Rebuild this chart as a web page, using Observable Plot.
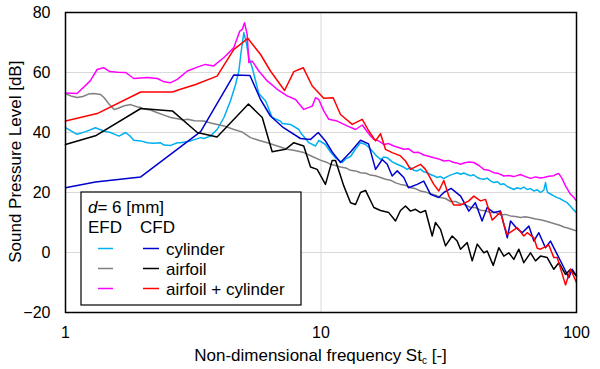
<!DOCTYPE html>
<html><head><meta charset="utf-8">
<script src="https://cdn.jsdelivr.net/npm/d3@7"></script>
<script src="https://cdn.jsdelivr.net/npm/@observablehq/plot@0.6"></script>
<style>body{margin:0;background:#fff;} #chart{width:600px;height:369px;}</style>
</head><body><div id="chart"></div>
<script>
// [St, dB]
const efdCylinder = [[1,41.6],[1.11,39.4],[1.2,40.3],[1.31,41.6],[1.41,40.5],[1.5,40.0],[1.62,38.8],[1.72,40.0],[1.8,38.6],[1.85,37.4],[1.97,37.2],[2.09,36.6],[2.22,36.4],[2.35,36.6],[2.43,35.8],[2.58,35.7],[2.74,36.6],[2.82,36.6],[3.0,37.0],[3.09,37.2],[3.38,38.3],[3.48,38.0],[3.69,38.8],[3.92,41.0],[4.17,45.0],[4.42,50.5],[4.63,56.0],[4.77,60.5],[4.87,67],[4.99,73.3],[5.1,70],[5.22,65.0],[5.38,61.6],[5.71,53.0],[6.07,50.5],[6.44,45.0],[6.94,43.8],[7.05,43.0],[7.6,42.7],[8.19,41.0],[8.31,40.0],[8.96,36.6],[9.52,35.5],[9.8,37.4],[10.41,36.0],[10.89,33.5],[11.4,31.5],[12.11,30.0],[12.5,31.2],[13.05,32.0],[13.65,34.5],[14.28,36.6],[14.94,36.0],[15.4,35],[15.87,33.8],[16.5,32.2],[17.1,31.0],[17.6,31.8],[18.16,31.6],[19.0,30.2],[19.87,29.4],[20.5,28.9],[21.1,28.4],[21.74,27.7],[22.4,28.3],[23.1,27.4],[23.79,27.2],[24.5,27.8],[25.25,26.9],[26.04,26.6],[26.8,26.0],[27.6,25.6],[28.5,25.0],[29.4,25.3],[30.2,24.6],[31.18,25.3],[32.1,25.8],[33.1,26.2],[34.12,26.6],[35.2,26.1],[36.2,26.5],[37.35,26.0],[38.5,25.6],[39.6,25.9],[40.9,25.0],[42.1,24.6],[43.37,24.4],[44.7,24.8],[46.1,23.9],[47.5,23.3],[49,23.6],[50.42,22.7],[52,22.9],[53.6,22.0],[55.2,21.5],[56.84,21.0],[58.6,21.6],[60.4,21.2],[62.2,21.8],[64.12,21.0],[66.1,21.3],[68.1,20.5],[70.2,20.9],[72.31,20.0],[74.5,20.8],[75.64,23.3],[76.5,21],[77.2,20.0],[79.1,19.5],[81.5,18.9],[84.05,18.3],[86.5,17.9],[89.2,17.2],[91.96,16.6],[94.7,15.4],[97.5,14.2],[100,13.3]];

const efdAirfoil = [[1,52.9],[1.05,52.2],[1.11,51.7],[1.17,52.0],[1.23,52.8],[1.29,53.0],[1.37,52.7],[1.42,51.5],[1.48,49.5],[1.55,47.7],[1.6,48.0],[1.7,48.9],[1.8,49.3],[1.9,48.6],[1.97,48.3],[2.03,47.8],[2.15,47.5],[2.29,46.6],[2.43,45.8],[2.58,45.0],[2.74,44.6],[2.9,44.2],[3.0,44.4],[3.2,43.9],[3.48,43.8],[3.7,43.2],[3.92,42.7],[4.17,42.2],[4.56,41.0],[4.9,40.2],[5.3,38.3],[5.7,37.4],[6.16,36.6],[6.7,35.6],[7.37,34.4],[7.9,34.0],[8.56,33.3],[9.2,32.1],[10.0,30.7],[10.5,30.1],[10.89,29.4],[11.4,29.0],[11.92,28.5],[12.5,28.2],[13.05,27.4],[13.65,27.2],[14.28,26.6],[15,26.4],[15.6,25.8],[16.3,25.6],[17.1,25.0],[17.9,24.4],[18.7,24.1],[19.6,23.2],[20.47,22.7],[21.4,22.4],[22.4,21.6],[23.4,21.3],[24.51,20.5],[25.6,20.2],[26.8,19.6],[28.1,19.1],[29.36,18.3],[30.7,18.0],[32.12,17.0],[33.6,17.0],[35.2,16.2],[36.8,15.9],[38.47,15.0],[40.2,15.0],[42.1,14.1],[44,13.9],[46.07,13.3],[48.2,13.3],[50.4,12.6],[52.7,12.7],[55.18,12.2],[57.7,12.0],[60.4,11.7],[63.1,11.9],[66.07,11.6],[69.1,11.2],[72.3,10.9],[75.6,10.5],[79.11,10.0],[82.7,9.5],[86.5,9.0],[89.19,8.5],[93,8.1],[96.7,7.6],[100,7.2]];

const efdAirfoilCylinder = [[1,53.2],[1.11,53.0],[1.25,57.2],[1.33,61.0],[1.41,61.6],[1.49,60.3],[1.6,60.1],[1.72,60.0],[1.85,58.0],[2.09,58.3],[2.29,58.0],[2.43,56.9],[2.58,56.6],[2.74,57.7],[3.0,60.5],[3.28,61.8],[3.53,62.7],[3.8,62.2],[4.17,65.0],[4.56,68.3],[4.81,73.8],[4.92,74.4],[5.02,76.6],[5.14,72.7],[5.22,63.3],[5.38,63.8],[5.71,60.5],[6.16,57.2],[6.74,54.4],[7.37,52.2],[7.95,51.0],[8.56,47.7],[9.24,48.8],[9.52,51.6],[9.8,51.0],[10.25,47.2],[10.73,44.4],[11.57,43.8],[12.66,42.2],[13.65,41.0],[14.5,42.5],[14.94,41.0],[15.5,39.2],[16.1,37.7],[16.8,37.2],[17.62,36.0],[18.4,36.3],[19.27,35.5],[20.1,35.0],[21.09,34.4],[22,34.6],[23.08,33.3],[24.1,33.4],[25.25,32.5],[26.4,32.1],[27.64,31.6],[28.9,31.2],[30.24,30.5],[31.6,30.7],[33.1,30.0],[34.1,29.8],[35.16,29.4],[36.5,29.9],[38,30.2],[39.64,30.0],[41.5,29.0],[43.37,27.7],[45.4,27.4],[47.46,26.6],[49.6,26.3],[51.94,25.5],[54.3,25.7],[56.8,25.3],[60.38,26.0],[63.1,25.3],[66.07,24.7],[69.1,25.2],[72.3,24.8],[74.47,25.0],[77.9,25.4],[81.5,25.6],[83.5,26.1],[85.26,26.3],[87.5,24.9],[90.57,22.2],[94.74,19.4],[97.5,18.4],[100,17.2]];

const cfdCylinder = [[1,21.6],[1.31,23.5],[1.97,25.2],[3.38,40.3],[4.56,59.2],[5.27,59.0],[5.8,51.0],[6.34,45.5],[7.13,41.6],[8.31,38.0],[9.1,37.7],[9.75,40.0],[10.41,37.2],[11.06,33.5],[11.92,30.0],[13.05,33.5],[14.28,37.4],[15.35,36.2],[16.35,27.7],[17.36,31.0],[18.16,29.4],[18.99,25.5],[19.87,27.2],[21.09,25.0],[22.0,21.6],[23.79,22.7],[25.25,23.8],[26.83,19.4],[28.91,18.3],[30.24,20.0],[32.3,21.4],[35.2,18.8],[37.9,13.8],[40.2,16.6],[42.7,10.5],[44.7,15.0],[47.5,13.3],[50.4,13.8],[53.6,4.9],[55.2,10.5],[58,8.3],[61.3,6.6],[65.1,8.8],[68.1,3.8],[71.2,6.6],[75.6,1.6],[79.1,3.8],[84,-0.6],[89.2,-5.0],[93.3,-8.4],[96.2,-5.6],[100,-7.8]];

const cfdAirfoil = [[1,36.0],[1.31,38.9],[1.97,48.0],[2.62,47.2],[3.28,40.0],[3.92,38.5],[5.2,49.5],[5.89,45.0],[6.44,33.6],[7.26,34.4],[7.83,36.6],[8.56,35.5],[9.1,28.5],[9.66,27.7],[10.41,22.7],[11.06,30.7],[11.4,30.7],[12.28,22.2],[13.05,16.6],[13.65,16.0],[14.28,20.0],[14.94,20.7],[16.1,15.0],[17.1,14.0],[18.42,13.3],[19.57,10.5],[20.47,14.0],[21.41,15.5],[22.4,13.8],[23.43,14.4],[24.51,13.3],[25.64,14.0],[27.24,5.5],[28.06,10.0],[29.36,7.7],[30.71,2.2],[32.62,5.5],[34.12,3.8],[35.16,1.1],[37.35,3.3],[39.06,-2.8],[40.87,2.8],[43.37,-0.1],[44.72,0.5],[47.21,-4.3],[49.65,1.6],[51.94,-1.2],[54.34,-0.1],[56.84,-2.3],[59.47,1.1],[62.2,-3.4],[66.07,-0.1],[69.11,-2.8],[72.31,-1.2],[76.79,-1.7],[81.52,-5.6],[85.26,-3.4],[90.57,-7.3],[94.74,-5.6],[100,-7.8]];

const cfdAirfoilCylinder = [[1,43.8],[1.33,46.3],[1.97,53.5],[2.62,53.5],[2.82,54.4],[3.23,56.0],[3.92,58.8],[4.56,67.7],[4.92,69.9],[5.17,71.4],[5.8,66.0],[6.34,60.5],[7.2,54.0],[7.83,60.3],[8.52,61.6],[9.24,55.5],[10.25,51.4],[11.16,51.6],[11.92,46.0],[13.25,42.7],[14.5,44.4],[15.39,40.5],[16.35,37.2],[17.1,39.6],[17.88,34.4],[18.99,33.3],[20.47,32.2],[21.41,30.5],[22.4,27.7],[24.51,29.4],[25.64,27.7],[27.64,22.7],[28.91,20.5],[30.24,24.0],[31.64,18.8],[33.1,15.8],[35.16,15.8],[37.89,17.2],[39.64,18.8],[42.1,17.2],[44.04,17.7],[46.77,10.8],[50.42,13.5],[51.94,9.4],[53.56,6.0],[58.61,8.3],[62.2,5.5],[64.12,6.6],[68.07,4.9],[70.19,1.4],[72.31,1.1],[77.91,2.5],[81.52,-1.7],[84.05,-1.7],[90.57,-10.8],[94.74,-5.6],[100,-10]];

const yTicks = [-20, 0, 20, 40, 60, 80];
const xTicks = [1, 10, 100];
const seriesNames = ["cylinder", "airfoil", "airfoil + cylinder"];
const efdColors = ["#00B0F0", "#808080", "#FF00FF"];
const cfdColors = ["#0000CC", "#000000", "#FF0000"];

const efd = [efdCylinder, efdAirfoil, efdAirfoilCylinder];
const cfd = [cfdCylinder, cfdAirfoil, cfdAirfoilCylinder];

const lineMarks = [];
efd.forEach((d, i) => lineMarks.push(Plot.line(d, {x: d => d[0], y: d => d[1], stroke: efdColors[i], strokeWidth: 1.5})));
cfd.forEach((d, i) => lineMarks.push(Plot.line(d, {x: d => d[0], y: d => d[1], stroke: cfdColors[i], strokeWidth: 1.5})));

const svg = Plot.plot({
  width: 600, height: 369,
  marginLeft: 65, marginRight: 24, marginTop: 12, marginBottom: 57,
  style: {fontFamily: "Arial, 'Liberation Sans', sans-serif", fontSize: "16px", background: "#fff", color: "#000"},
  x: {type: "log", domain: [1, 100], ticks: xTicks, tickFormat: d => String(d), label: null},
  y: {domain: [-20, 80], ticks: yTicks, label: null},
  marks: [
    Plot.gridY(yTicks, {stroke: "#d9d9d9", strokeOpacity: 1, strokeWidth: 1}),
    Plot.gridX([10], {stroke: "#d9d9d9", strokeOpacity: 1, strokeWidth: 1}),
    ...lineMarks,
    Plot.frame({stroke: "#000", strokeWidth: 1.5}),
    Plot.axisX(xTicks, {tickSize: 0, tickPadding: 14, tickFormat: d => String(d), fontSize: 16, label: null}),
    Plot.axisY(yTicks, {tickSize: 0, tickPadding: 15, fontSize: 16, label: null})
  ]
});

const s = d3.select(svg);
const xt = s.append("text").attr("x", 320.5).attr("y", 361).attr("text-anchor", "middle")
  .attr("font-size", 17).attr("fill", "#000");
xt.append("tspan").text("Non-dimensional frequency St");
xt.append("tspan").attr("font-size", 10).attr("dy", 3).text("c");
xt.append("tspan").attr("dy", -3).text(" [-]");

s.append("text").attr("transform", "translate(21,161.7) rotate(-90)").attr("text-anchor", "middle")
  .attr("font-size", 17).attr("fill", "#000").text("Sound Pressure Level [dB]");

const lg = s.append("g").attr("font-size", 17).attr("fill", "#000").attr("text-anchor", "start");
lg.append("rect").attr("x", 81).attr("y", 192).attr("width", 220).attr("height", 113)
  .attr("fill", "#fff").attr("stroke", "#000").attr("stroke-width", 1.2);
const t1 = lg.append("text").attr("x", 88).attr("y", 213);
t1.append("tspan").attr("font-style", "italic").text("d");
t1.append("tspan").text("= 6 [mm]");
lg.append("text").attr("x", 88).attr("y", 233).text("EFD");
lg.append("text").attr("x", 140).attr("y", 233).text("CFD");
seriesNames.forEach((name, i) => {
  const cy = 248.5 + i * 20;
  lg.append("line").attr("x1", 98).attr("x2", 113).attr("y1", cy).attr("y2", cy).attr("stroke", efdColors[i]).attr("stroke-width", 1.5);
  lg.append("line").attr("x1", 143).attr("x2", 159).attr("y1", cy).attr("y2", cy).attr("stroke", cfdColors[i]).attr("stroke-width", 1.5);
  lg.append("text").attr("x", 166).attr("y", cy + 6).text(name);
});

document.getElementById("chart").appendChild(svg);
</script>
</body></html>
